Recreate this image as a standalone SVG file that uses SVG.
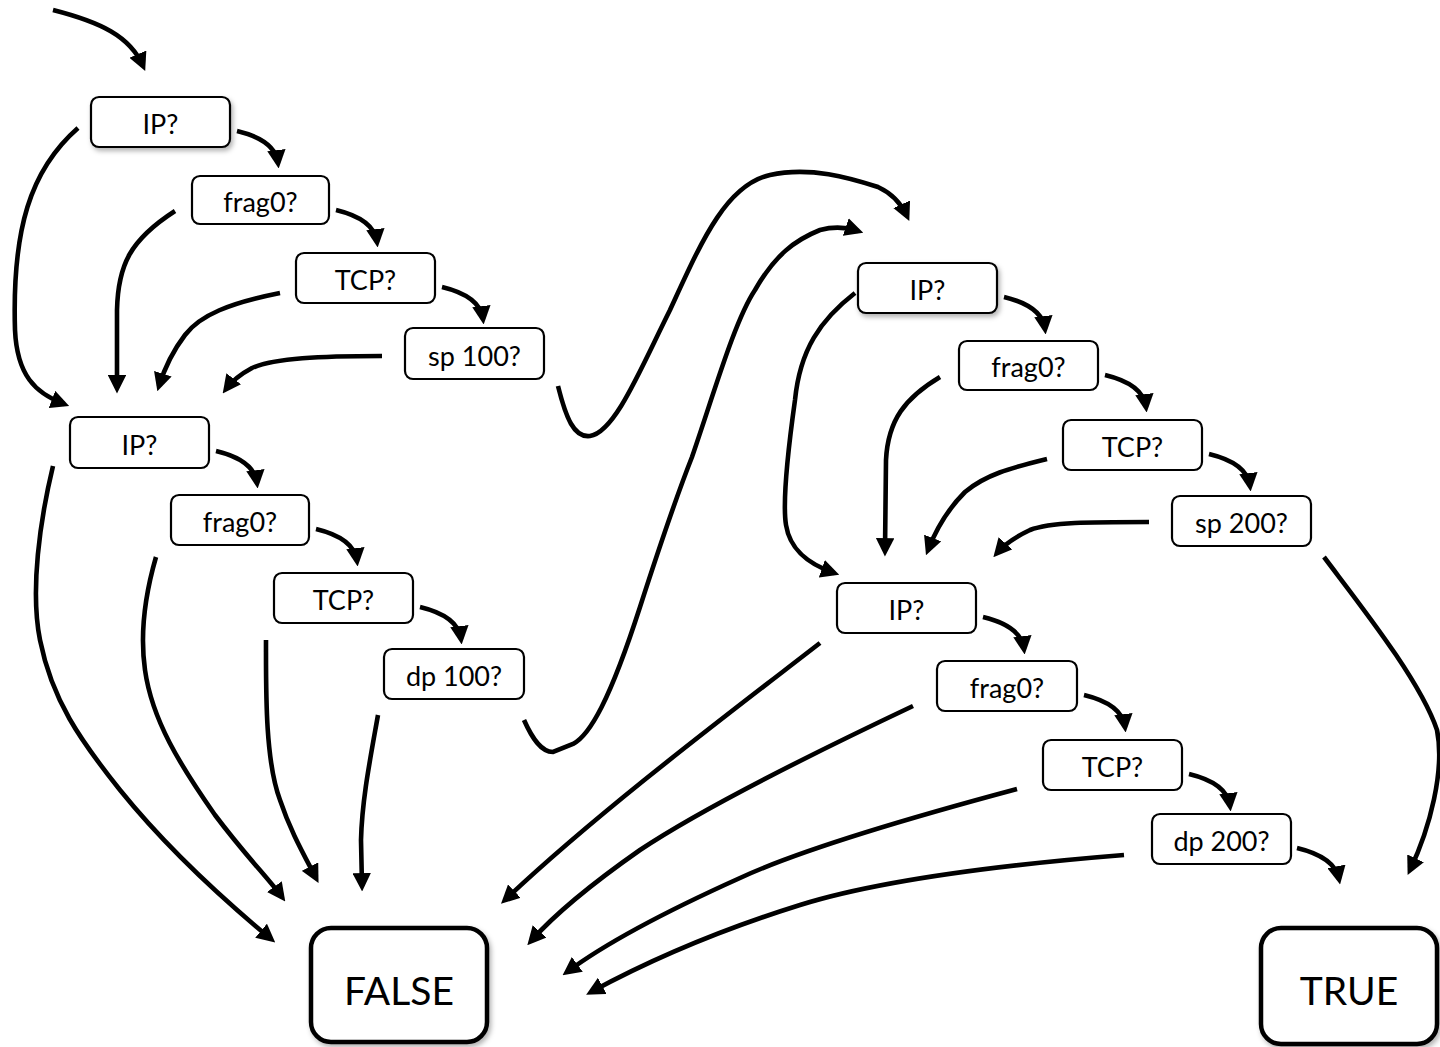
<svg xmlns="http://www.w3.org/2000/svg" width="1440" height="1047" viewBox="0 0 1440 1047">
  <style>
    .box { fill: #ffffff; stroke: #000000; stroke-width: 2.2; }
    .term { fill: #ffffff; stroke: #000000; stroke-width: 4.5; }
    .lbl { font-family: Lato, "Open Sans", sans-serif; font-size: 27px; fill: #000000; text-anchor: middle; }
    .big { font-family: Lato, "Open Sans", sans-serif; font-size: 39px; fill: #000000; text-anchor: middle; }
    .edge { fill: none; stroke: #000000; stroke-width: 4.6; marker-end: url(#head); }
  </style>
  <defs>
    <marker id="head" viewBox="0 0 10 10" refX="7" refY="5" markerWidth="4" markerHeight="4" markerUnits="strokeWidth" orient="auto">
      <path d="M0,0 L10,5 L0,10 z" fill="#000000"/>
    </marker>
    <filter id="shadow" x="-20%" y="-30%" width="150%" height="170%">
      <feDropShadow dx="2" dy="3" stdDeviation="2.5" flood-color="#000000" flood-opacity="0.3"/>
    </filter>
  </defs>
  <rect width="1440" height="1047" fill="#ffffff"/>

  <!-- connectors -->
  <g id="connectors">
    <!-- entry -->
    <path class="edge" d="M53,10 C100,22 130,36 143,66"/>

    <!-- source-port 100 chain -->
    <path class="edge" d="M237,131 C262,137 276,147 278,163"/>
    <path class="edge" d="M336,210 C361,216 375,226 377,242"/>
    <path class="edge" d="M442,287 C467,293 481,303 483,319"/>

    <!-- source-port 100 misses fall through to the destination chain -->
    <path class="edge" d="M78,128 C30,170 12,230 15,330 C17,375 35,393 64,404"/>
    <path class="edge" d="M175,211 C130,240 118,265 117,310 L117,388"/>
    <path class="edge" d="M280,293 C230,303 200,315 185,335 C172,352 164,370 159,386"/>
    <path class="edge" d="M382,356 C320,356 275,358 252,368 C239,375 232,381 226,389"/>

    <!-- source-port 100 match jumps to the second rule -->
    <path class="edge" d="M558,386 C566,418 574,438 590,436 C615,432 640,370 670,310 C700,245 725,185 770,175 C810,166 850,178 878,187 C893,194 902,205 907,216"/>

    <!-- destination-port 100 chain -->
    <path class="edge" d="M216,451 C241,457 255,467 257,483"/>
    <path class="edge" d="M316,529 C341,535 355,545 357,561"/>
    <path class="edge" d="M420,607 C445,613 459,623 461,639"/>

    <!-- destination-port 100 misses -->
    <path class="edge" d="M53,466 C40,520 30,590 40,640 C52,700 80,740 120,790 C170,852 230,905 271,939"/>
    <path class="edge" d="M156,557 C145,595 140,635 145,670 C152,720 180,765 215,815 C245,855 268,878 282,897"/>
    <path class="edge" d="M266,640 C266,690 265,760 280,800 C290,830 303,853 316,878"/>
    <path class="edge" d="M378,715 C370,760 362,800 361,840 L362,886"/>

    <!-- destination-port 100 match jumps to the second rule -->
    <path class="edge" d="M524,720 C532,738 541,752 553,752 L573,744 C590,735 610,700 640,607 C660,545 675,500 692,457 C715,390 735,320 755,290 C775,255 795,240 820,230 C835,226 846,227 858,231"/>

    <!-- source-port 200 chain -->
    <path class="edge" d="M1004,297 C1029,303 1043,313 1045,329"/>
    <path class="edge" d="M1105,375 C1130,381 1144,391 1146,407"/>
    <path class="edge" d="M1209,454 C1234,460 1248,470 1250,486"/>

    <!-- source-port 200 misses -->
    <path class="edge" d="M855,293 C820,320 800,350 795,400 C788,450 782,500 786,525 C790,550 808,564 834,573"/>
    <path class="edge" d="M940,377 C905,398 888,420 886,460 L885,551"/>
    <path class="edge" d="M1047,459 C1010,468 985,475 965,492 C945,512 935,532 928,550"/>
    <path class="edge" d="M1149,522 C1090,522 1050,522 1030,530 C1013,538 1004,545 997,553"/>

    <!-- source-port 200 match -->
    <path class="edge" d="M1324,557 C1360,605 1420,680 1437,730 C1445,770 1430,828 1410,870"/>

    <!-- destination-port 200 chain -->
    <path class="edge" d="M983,617 C1008,623 1022,633 1024,649"/>
    <path class="edge" d="M1084,695 C1109,701 1123,711 1125,727"/>
    <path class="edge" d="M1189,774 C1214,780 1228,790 1230,806"/>
    <path class="edge" d="M1297,848 C1322,854 1336,864 1339,879"/>

    <!-- destination-port 200 misses -->
    <path class="edge" d="M820,643 C740,705 600,810 505,900"/>
    <path class="edge" d="M913,706 C820,750 700,810 640,850 C590,885 555,914 531,941"/>
    <path class="edge" d="M1017,789 C920,815 800,850 740,878 C680,905 610,940 567,972"/>
    <path class="edge" d="M1124,855 C1000,865 880,880 800,905 C720,930 650,960 591,992"/>
  </g>

  <!-- first rule: source port 100 -->
  <g id="ip-a"><rect class="box" x="91" y="97" width="139" height="50" rx="8" filter="url(#shadow)"/><text class="lbl" x="160.5" y="134">IP?</text></g>
  <g id="frag-a"><rect class="box" x="192" y="176" width="137" height="48" rx="8"/><text class="lbl" x="260.5" y="212">frag0?</text></g>
  <g id="tcp-a"><rect class="box" x="296" y="253" width="139" height="50" rx="8"/><text class="lbl" x="365.5" y="290">TCP?</text></g>
  <g id="sp100"><rect class="box" x="405" y="328" width="139" height="51" rx="8"/><text class="lbl" x="474.5" y="366">sp 100?</text></g>

  <!-- first rule: destination port 100 -->
  <g id="ip-b"><rect class="box" x="70" y="417" width="139" height="51" rx="8"/><text class="lbl" x="139.5" y="455">IP?</text></g>
  <g id="frag-b"><rect class="box" x="171" y="495" width="138" height="50" rx="8"/><text class="lbl" x="240" y="532">frag0?</text></g>
  <g id="tcp-b"><rect class="box" x="274" y="573" width="139" height="50" rx="8"/><text class="lbl" x="343.5" y="610">TCP?</text></g>
  <g id="dp100"><rect class="box" x="384" y="649" width="140" height="50" rx="8"/><text class="lbl" x="454" y="686">dp 100?</text></g>

  <!-- second rule: source port 200 -->
  <g id="ip-c"><rect class="box" x="858" y="263" width="139" height="50" rx="8" filter="url(#shadow)"/><text class="lbl" x="927.5" y="300">IP?</text></g>
  <g id="frag-c"><rect class="box" x="959" y="341" width="139" height="49" rx="8"/><text class="lbl" x="1028.5" y="377">frag0?</text></g>
  <g id="tcp-c"><rect class="box" x="1063" y="420" width="139" height="50" rx="8"/><text class="lbl" x="1132.5" y="457">TCP?</text></g>
  <g id="sp200"><rect class="box" x="1172" y="496" width="139" height="50" rx="8"/><text class="lbl" x="1241.5" y="533">sp 200?</text></g>

  <!-- second rule: destination port 200 -->
  <g id="ip-d"><rect class="box" x="837" y="583" width="139" height="50" rx="8"/><text class="lbl" x="906.5" y="620">IP?</text></g>
  <g id="frag-d"><rect class="box" x="937" y="661" width="140" height="50" rx="8"/><text class="lbl" x="1007" y="698">frag0?</text></g>
  <g id="tcp-d"><rect class="box" x="1043" y="740" width="139" height="50" rx="8"/><text class="lbl" x="1112.5" y="777">TCP?</text></g>
  <g id="dp200"><rect class="box" x="1152" y="814" width="139" height="50" rx="8"/><text class="lbl" x="1221.5" y="851">dp 200?</text></g>

  <!-- results -->
  <g id="false"><rect class="term" x="311" y="928" width="176" height="114" rx="20" filter="url(#shadow)"/><text class="big" x="399" y="1005">FALSE</text></g>
  <g id="true"><rect class="term" x="1261" y="928" width="176" height="116" rx="20" filter="url(#shadow)"/><text class="big" x="1349" y="1005">TRUE</text></g>
</svg>
